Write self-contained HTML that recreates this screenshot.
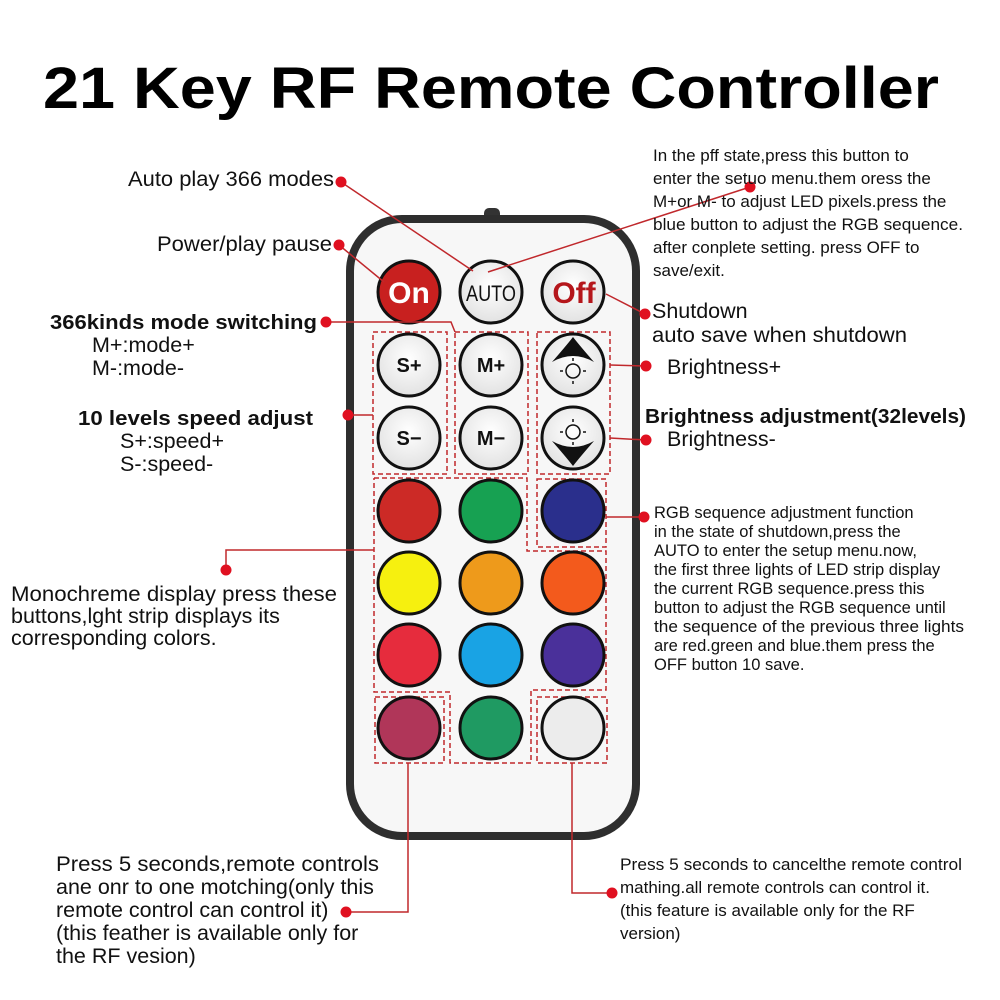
<!DOCTYPE html>
<html><head><meta charset="utf-8"><style>
html,body{margin:0;padding:0;background:#fff;}
svg{display:block;font-family:"Liberation Sans",Arial,sans-serif;}
</style></head><body>
<svg width="1000" height="1000" viewBox="0 0 1000 1000" xmlns="http://www.w3.org/2000/svg">
<defs>
<radialGradient id="g" cx="50%" cy="40%" r="60%"><stop offset="0" stop-color="#fff"/><stop offset="1" stop-color="#e2e2e2"/></radialGradient>
</defs>
<text x="491" y="108" font-size="58" font-weight="bold" text-anchor="middle" textLength="896" lengthAdjust="spacingAndGlyphs">21 Key RF Remote Controller</text>

<rect x="484" y="208" width="16" height="12" rx="5" fill="#333"/>
<rect x="350" y="219" width="286" height="617" rx="52" fill="#f7f7f7" stroke="#2e2e2e" stroke-width="8"/>

<g fill="none" stroke="#c0282c" stroke-width="1.5" stroke-dasharray="5,3">
<rect x="373" y="332" width="74" height="142"/>
<rect x="455" y="332" width="73" height="142"/>
<rect x="537" y="332" width="73" height="142"/>
<polyline points="374,478 527,478 527,551 606,551 606,690 531,690 531,763 450,763 450,692 374,692 374,478"/>
<rect x="537" y="479" width="69" height="68"/>
<rect x="375" y="697" width="69" height="66"/>
<rect x="537" y="697" width="70" height="66"/>
</g>

<g stroke="#111" stroke-width="3">
<circle cx="409" cy="292" r="31" fill="#c8201f"/>
<circle cx="491" cy="292" r="31" fill="url(#g)"/>
<circle cx="573" cy="292" r="31" fill="url(#g)"/>
<circle cx="409" cy="365" r="31" fill="url(#g)"/>
<circle cx="491" cy="365" r="31" fill="url(#g)"/>
<circle cx="573" cy="365" r="31" fill="url(#g)"/>
<circle cx="409" cy="438" r="31" fill="url(#g)"/>
<circle cx="491" cy="438" r="31" fill="url(#g)"/>
<circle cx="573" cy="438" r="31" fill="url(#g)"/>
<circle cx="409" cy="511" r="31" fill="#cc2a26"/>
<circle cx="491" cy="511" r="31" fill="#17a152"/>
<circle cx="573" cy="511" r="31" fill="#2a2f8c"/>
<circle cx="409" cy="583" r="31" fill="#f6f00f"/>
<circle cx="491" cy="583" r="31" fill="#ee9a1b"/>
<circle cx="573" cy="583" r="31" fill="#f35a1c"/>
<circle cx="409" cy="655" r="31" fill="#e62c3d"/>
<circle cx="491" cy="655" r="31" fill="#19a3e4"/>
<circle cx="573" cy="655" r="31" fill="#4a309a"/>
<circle cx="409" cy="728" r="31" fill="#b03659"/>
<circle cx="491" cy="728" r="31" fill="#1f9a62"/>
<circle cx="573" cy="728" r="31" fill="#ececec"/>
</g>
<text x="409" y="303" font-size="30" font-weight="bold" fill="#fff" text-anchor="middle">On</text>
<text x="491" y="301" font-size="22" fill="#111" text-anchor="middle" textLength="50" lengthAdjust="spacingAndGlyphs">AUTO</text>
<text x="574" y="303" font-size="30" font-weight="bold" fill="#b5161b" text-anchor="middle">Off</text>
<g font-size="20" font-weight="bold" fill="#111" text-anchor="middle">
<text x="409" y="372">S+</text><text x="491" y="372">M+</text>
<text x="409" y="445">S−</text><text x="491" y="445">M−</text>
</g>
<path d="M552,362 Q566,346 573,337 Q580,346 594,362 Q573,350 552,362Z" fill="#111"/>
<circle cx="573" cy="371" r="7" fill="none" stroke="#111" stroke-width="1.5"/>
<circle cx="573" cy="432" r="7" fill="none" stroke="#111" stroke-width="1.5"/>
<path d="M552,441 Q573,453 594,441 Q580,457 573,466 Q566,457 552,441Z" fill="#111"/>
<g stroke="#111" stroke-width="1.5">
<line x1="573" y1="358" x2="573" y2="361"/><line x1="573" y1="381" x2="573" y2="384"/><line x1="560" y1="371" x2="563" y2="371"/><line x1="583" y1="371" x2="586" y2="371"/>
<line x1="573" y1="419" x2="573" y2="422"/><line x1="573" y1="442" x2="573" y2="445"/><line x1="560" y1="432" x2="563" y2="432"/><line x1="583" y1="432" x2="586" y2="432"/>
</g>

<g stroke="#c0282c" stroke-width="1.5" fill="none">
<line x1="341" y1="182" x2="473" y2="271"/>
<line x1="750" y1="187" x2="488" y2="272"/>
<line x1="339" y1="245" x2="384" y2="282"/>
<line x1="606" y1="294" x2="645" y2="314"/>
<polyline points="326,322 451,322 455,332"/>
<line x1="348" y1="415" x2="373" y2="415"/>
<line x1="610" y1="365" x2="646" y2="366"/>
<line x1="610" y1="438" x2="646" y2="440"/>
<polyline points="226,570 226,550 374,550"/>
<line x1="606" y1="517" x2="644" y2="517"/>
<polyline points="346,912 408,912 408,763"/>
<polyline points="572,763 572,893 612,893"/>
</g>
<g fill="#e01020">
<circle cx="341" cy="182" r="5.5"/><circle cx="750" cy="187" r="5.5"/><circle cx="339" cy="245" r="5.5"/>
<circle cx="645" cy="314" r="5.5"/><circle cx="326" cy="322" r="5.5"/><circle cx="348" cy="415" r="5.5"/>
<circle cx="646" cy="366" r="5.5"/><circle cx="646" cy="440" r="5.5"/><circle cx="226" cy="570" r="5.5"/>
<circle cx="644" cy="517" r="5.5"/><circle cx="346" cy="912" r="5.5"/><circle cx="612" cy="893" r="5.5"/>
</g>

<g fill="#111" font-size="21.5">
<text x="128" y="186" textLength="206" lengthAdjust="spacingAndGlyphs">Auto play 366 modes</text>
<text x="157" y="251" textLength="175" lengthAdjust="spacingAndGlyphs">Power/play pause</text>
<text x="50" y="329" font-weight="bold" font-size="20" textLength="267" lengthAdjust="spacingAndGlyphs">366kinds mode switching</text>
<text x="92" y="352">M+:mode+</text>
<text x="92" y="375">M-:mode-</text>
<text x="78" y="425" font-weight="bold" font-size="20" textLength="235" lengthAdjust="spacingAndGlyphs">10 levels speed adjust</text>
<text x="120" y="448">S+:speed+</text>
<text x="120" y="471">S-:speed-</text>
<text x="11" y="601" textLength="326" lengthAdjust="spacingAndGlyphs">Monochreme display press these</text>
<text x="11" y="623">buttons,lght strip displays its</text>
<text x="11" y="645">corresponding colors.</text>
<text x="56" y="871" textLength="323" lengthAdjust="spacingAndGlyphs">Press 5 seconds,remote controls</text>
<text x="56" y="894">ane onr to one motching(only this</text>
<text x="56" y="917">remote control can control it)</text>
<text x="56" y="940">(this feather is available only for</text>
<text x="56" y="963">the RF vesion)</text>
<text x="652" y="318">Shutdown</text>
<text x="652" y="342" textLength="255" lengthAdjust="spacingAndGlyphs">auto save when shutdown</text>
<text x="667" y="374">Brightness+</text>
<text x="645" y="423" font-weight="bold" font-size="20" textLength="321" lengthAdjust="spacingAndGlyphs">Brightness adjustment(32levels)</text>
<text x="667" y="446">Brightness-</text>
</g>
<g fill="#111" font-size="17">
<text x="653" y="161">In the pff state,press this button to</text>
<text x="653" y="184">enter the setuo menu.them oress the</text>
<text x="653" y="207">M+or M- to adjust LED pixels.press the</text>
<text x="653" y="230" textLength="310" lengthAdjust="spacingAndGlyphs">blue button to adjust the RGB sequence.</text>
<text x="653" y="253">after conplete setting. press OFF to</text>
<text x="653" y="276">save/exit.</text>
</g>
<g fill="#111" font-size="16.5">
<text x="654" y="518">RGB sequence adjustment function</text>
<text x="654" y="537">in the state of shutdown,press the</text>
<text x="654" y="556">AUTO to enter the setup menu.now,</text>
<text x="654" y="575">the first three lights of LED strip display</text>
<text x="654" y="594">the current RGB sequence.press this</text>
<text x="654" y="613">button to adjust the RGB sequence until</text>
<text x="654" y="632" textLength="310" lengthAdjust="spacingAndGlyphs">the sequence of the previous three lights</text>
<text x="654" y="651">are red.green and blue.them press the</text>
<text x="654" y="670">OFF button 10 save.</text>
</g>
<g fill="#111" font-size="17">
<text x="620" y="870" textLength="342" lengthAdjust="spacingAndGlyphs">Press 5 seconds to cancelthe remote control</text>
<text x="620" y="893">mathing.all remote controls can control it.</text>
<text x="620" y="916">(this feature is available only for the RF</text>
<text x="620" y="939">version)</text>
</g>
</svg>
</body></html>
